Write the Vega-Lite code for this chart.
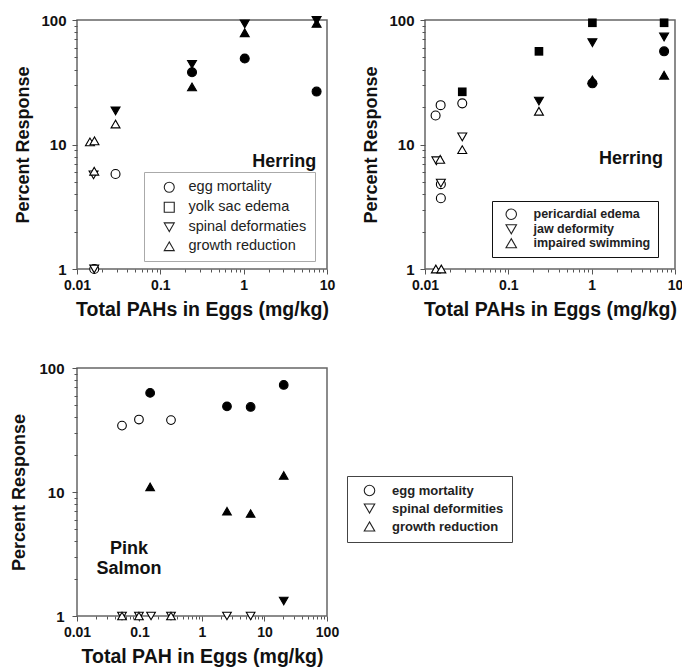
{
  "$schema": "https://vega.github.io/schema/vega-lite/v6.json",
  "padding": {"left": 10, "top": 12, "right": 0, "bottom": 0},
  "background": "white",
  "config": {
    "font": "Liberation Sans",
    "view": {"stroke": "#666", "strokeWidth": 1.5},
    "axis": {
      "domain": false, "grid": false, "tickColor": "#555", "tickWidth": 1,
      "labelFont": "Liberation Sans", "labelFontWeight": "bold", "labelColor": "#111",
      "titleFont": "Liberation Sans", "titleFontWeight": "bold", "titleColor": "#111",
      "labelFlush": false, "labelOverlap": false
    },
    "legend": {"titleFontSize": 0}
  },
  "datasets": {
    "p1": [
      {"x": 0.0161, "y": 1, "cat": "egg mortality", "f": "open"},
      {"x": 0.029, "y": 5.8, "cat": "egg mortality", "f": "open"},
      {"x": 0.24, "y": 38, "cat": "egg mortality", "f": "filled"},
      {"x": 1.03, "y": 49, "cat": "egg mortality", "f": "filled"},
      {"x": 7.5, "y": 26.6, "cat": "egg mortality", "f": "filled"},
      {"x": 0.0161, "y": 1, "cat": "spinal deformaties", "f": "open"},
      {"x": 0.0158, "y": 5.7, "cat": "spinal deformaties", "f": "open"},
      {"x": 0.029, "y": 18.6, "cat": "spinal deformaties", "f": "filled"},
      {"x": 0.24, "y": 44, "cat": "spinal deformaties", "f": "filled"},
      {"x": 1.03, "y": 93, "cat": "spinal deformaties", "f": "filled"},
      {"x": 7.5, "y": 99, "cat": "spinal deformaties", "f": "filled"},
      {"x": 0.0143, "y": 10.5, "cat": "growth reduction", "f": "open"},
      {"x": 0.0162, "y": 10.7, "cat": "growth reduction", "f": "open"},
      {"x": 0.0161, "y": 6.1, "cat": "growth reduction", "f": "open"},
      {"x": 0.029, "y": 14.6, "cat": "growth reduction", "f": "open"},
      {"x": 0.24, "y": 29, "cat": "growth reduction", "f": "filled"},
      {"x": 1.03, "y": 79, "cat": "growth reduction", "f": "filled"},
      {"x": 7.5, "y": 94, "cat": "growth reduction", "f": "filled"}
    ],
    "p2": [
      {"x": 0.0134, "y": 17.1, "cat": "pericardial edema", "f": "open"},
      {"x": 0.0154, "y": 20.7, "cat": "pericardial edema", "f": "open"},
      {"x": 0.028, "y": 21.4, "cat": "pericardial edema", "f": "open"},
      {"x": 0.0155, "y": 4.8, "cat": "pericardial edema", "f": "open"},
      {"x": 0.0155, "y": 3.7, "cat": "pericardial edema", "f": "open"},
      {"x": 1.02, "y": 31, "cat": "pericardial edema", "f": "filled"},
      {"x": 7.4, "y": 56, "cat": "pericardial edema", "f": "filled"},
      {"x": 0.0137, "y": 7.4, "cat": "jaw deformity", "f": "open"},
      {"x": 0.0155, "y": 4.9, "cat": "jaw deformity", "f": "open"},
      {"x": 0.028, "y": 11.5, "cat": "jaw deformity", "f": "open"},
      {"x": 0.233, "y": 22.3, "cat": "jaw deformity", "f": "filled"},
      {"x": 1.02, "y": 65.7, "cat": "jaw deformity", "f": "filled"},
      {"x": 7.4, "y": 73, "cat": "jaw deformity", "f": "filled"},
      {"x": 0.0135, "y": 1, "cat": "impaired swimming", "f": "open"},
      {"x": 0.0157, "y": 1, "cat": "impaired swimming", "f": "open"},
      {"x": 0.0152, "y": 7.6, "cat": "impaired swimming", "f": "open"},
      {"x": 0.028, "y": 9.1, "cat": "impaired swimming", "f": "open"},
      {"x": 0.233, "y": 18.5, "cat": "impaired swimming", "f": "open"},
      {"x": 1.02, "y": 33, "cat": "impaired swimming", "f": "filled"},
      {"x": 7.4, "y": 36, "cat": "impaired swimming", "f": "filled"}
    ],
    "p2sq": [
      {"x": 0.028, "y": 26.5},
      {"x": 0.233, "y": 56},
      {"x": 1.02, "y": 95},
      {"x": 7.4, "y": 95}
    ],
    "p3": [
      {"x": 0.0525, "y": 34.3, "cat": "egg mortality", "f": "open"},
      {"x": 0.098, "y": 38.4, "cat": "egg mortality", "f": "open"},
      {"x": 0.319, "y": 38, "cat": "egg mortality", "f": "open"},
      {"x": 0.148, "y": 63, "cat": "egg mortality", "f": "filled"},
      {"x": 2.51, "y": 49, "cat": "egg mortality", "f": "filled"},
      {"x": 6.0, "y": 48.5, "cat": "egg mortality", "f": "filled"},
      {"x": 20.3, "y": 73, "cat": "egg mortality", "f": "filled"},
      {"x": 0.0525, "y": 1, "cat": "spinal deformities", "f": "open"},
      {"x": 0.098, "y": 1, "cat": "spinal deformities", "f": "open"},
      {"x": 0.153, "y": 1, "cat": "spinal deformities", "f": "open"},
      {"x": 0.319, "y": 1, "cat": "spinal deformities", "f": "open"},
      {"x": 2.51, "y": 1, "cat": "spinal deformities", "f": "open"},
      {"x": 6.0, "y": 1, "cat": "spinal deformities", "f": "open"},
      {"x": 20.3, "y": 1.32, "cat": "spinal deformities", "f": "filled"},
      {"x": 0.0525, "y": 1, "cat": "growth reduction", "f": "open"},
      {"x": 0.098, "y": 1, "cat": "growth reduction", "f": "open"},
      {"x": 0.319, "y": 1, "cat": "growth reduction", "f": "open"},
      {"x": 0.148, "y": 11, "cat": "growth reduction", "f": "filled"},
      {"x": 2.51, "y": 7.0, "cat": "growth reduction", "f": "filled"},
      {"x": 6.0, "y": 6.7, "cat": "growth reduction", "f": "filled"},
      {"x": 20.3, "y": 13.6, "cat": "growth reduction", "f": "filled"}
    ],
    "t1": [{"x": 3.07, "y": 7.3, "t": "Herring"}],
    "t2": [{"x": 2.97, "y": 7.6, "t": "Herring"}],
    "t3": [{"x": 0.068, "y": 3.5, "t": "Pink"}, {"x": 0.068, "y": 2.4, "t": "Salmon"}]
  },
  "resolve": {"scale": {"shape": "independent", "fill": "independent"}, "legend": {"shape": "independent"}},
  "columns": 1,
  "align": "none",
  "spacing": 40,
  "concat": [
    {
      "resolve": {"scale": {"shape": "independent", "fill": "independent", "x": "independent", "y": "independent"}, "legend": {"shape": "independent"}},
      "spacing": 26,
      "hconcat": [
        {
          "width": 250, "height": 249,
          "layer": [
            {
              "data": {"name": "p1"},
              "mark": {"type": "point", "filled": true, "stroke": "black", "strokeWidth": 1.1, "size": 80, "opacity": 1},
              "encoding": {
                "x": {"field": "x", "type": "quantitative", "scale": {"type": "log", "domain": [0.01, 10], "nice": false},
                  "axis": {"title": "Total PAHs in Eggs (mg/kg)", "titleFontSize": 19.5, "titlePadding": 8, "labelFontSize": 14, "labelPadding": 4, "format": "~g",
                    "values": [0.01,0.02,0.03,0.04,0.05,0.06,0.07,0.08,0.09,0.1,0.2,0.3,0.4,0.5,0.6,0.7,0.8,0.9,1,2,3,4,5,6,7,8,9,10],
                    "labelExpr": "indexof([0.01,0.1,1,10], datum.value) >= 0 ? datum.label : ''",
                    "tickSize": {"condition": {"test": "indexof([0.01,0.1,1,10], datum.value) >= 0", "value": 5}, "value": 3}}},
                "y": {"field": "y", "type": "quantitative", "scale": {"type": "log", "domain": [1, 100], "nice": false},
                  "axis": {"title": "Percent Response", "titleFontSize": 18, "titlePadding": 8, "labelFontSize": 15, "labelPadding": 6, "format": "~g",
                    "values": [1,2,3,4,5,6,7,8,9,10,20,30,40,50,60,70,80,90,100],
                    "labelExpr": "indexof([1,10,100], datum.value) >= 0 ? datum.label : ''",
                    "tickSize": {"condition": {"test": "indexof([1,10,100], datum.value) >= 0", "value": 5}, "value": 3}}},
                "shape": {"field": "cat", "type": "nominal",
                  "scale": {"domain": ["egg mortality", "yolk sac edema", "spinal deformaties", "growth reduction"], "range": ["circle", "square", "triangle-down", "triangle-up"]},
                  "legend": {"title": null, "orient": "none", "legendX": 67, "legendY": 152, "padding": 8, "strokeColor": "#aaa", "fillColor": "white",
                    "labelFontSize": 14.5, "labelFontWeight": "normal", "labelColor": "#222", "symbolSize": 100, "symbolFillColor": "white", "symbolStrokeColor": "#222",
                    "symbolStrokeWidth": 1.1, "symbolOffset": 10, "labelOffset": 12, "rowPadding": 4}},
                "fill": {"field": "f", "type": "nominal", "scale": {"domain": ["open", "filled"], "range": ["white", "black"]}, "legend": null}
              }
            },
            {
              "data": {"name": "t1"},
              "mark": {"type": "text", "fontSize": 18, "fontWeight": "bold", "color": "#111"},
              "encoding": {
                "x": {"field": "x", "type": "quantitative"},
                "y": {"field": "y", "type": "quantitative"},
                "text": {"field": "t", "type": "nominal"}
              }
            }
          ]
        },
        {
          "width": 250, "height": 249,
          "layer": [
            {
              "data": {"name": "p2sq"},
              "mark": {"type": "point", "shape": "square", "filled": true, "color": "black", "size": 75, "opacity": 1},
              "encoding": {
                "x": {"field": "x", "type": "quantitative", "scale": {"type": "log", "domain": [0.01, 10], "nice": false},
                  "axis": {"title": "Total PAHs in Eggs (mg/kg)", "titleFontSize": 19.5, "titlePadding": 8, "labelFontSize": 14, "labelPadding": 4, "format": "~g",
                    "values": [0.01,0.02,0.03,0.04,0.05,0.06,0.07,0.08,0.09,0.1,0.2,0.3,0.4,0.5,0.6,0.7,0.8,0.9,1,2,3,4,5,6,7,8,9,10],
                    "labelExpr": "indexof([0.01,0.1,1,10], datum.value) >= 0 ? datum.label : ''",
                    "tickSize": {"condition": {"test": "indexof([0.01,0.1,1,10], datum.value) >= 0", "value": 5}, "value": 3}}},
                "y": {"field": "y", "type": "quantitative", "scale": {"type": "log", "domain": [1, 100], "nice": false},
                  "axis": {"title": "Percent Response", "titleFontSize": 18, "titlePadding": 8, "labelFontSize": 15, "labelPadding": 6, "format": "~g",
                    "values": [1,2,3,4,5,6,7,8,9,10,20,30,40,50,60,70,80,90,100],
                    "labelExpr": "indexof([1,10,100], datum.value) >= 0 ? datum.label : ''",
                    "tickSize": {"condition": {"test": "indexof([1,10,100], datum.value) >= 0", "value": 5}, "value": 3}}}
              }
            },
            {
              "data": {"name": "p2"},
              "mark": {"type": "point", "filled": true, "stroke": "black", "strokeWidth": 1.1, "size": 80, "opacity": 1},
              "encoding": {
                "x": {"field": "x", "type": "quantitative"},
                "y": {"field": "y", "type": "quantitative"},
                "shape": {"field": "cat", "type": "nominal",
                  "scale": {"domain": ["pericardial edema", "jaw deformity", "impaired swimming"], "range": ["circle", "triangle-down", "triangle-up"]},
                  "legend": {"title": null, "orient": "none", "legendX": 67, "legendY": 181, "padding": 7, "strokeColor": "#111", "fillColor": "white",
                    "labelFontSize": 12.5, "labelFontWeight": "bold", "labelColor": "#222", "symbolSize": 110, "symbolFillColor": "white", "symbolStrokeColor": "#222",
                    "symbolStrokeWidth": 1.1, "symbolOffset": 6, "labelOffset": 16, "rowPadding": 0}},
                "fill": {"field": "f", "type": "nominal", "scale": {"domain": ["open", "filled"], "range": ["white", "black"]}, "legend": null}
              }
            },
            {
              "data": {"name": "t2"},
              "mark": {"type": "text", "fontSize": 18, "fontWeight": "bold", "color": "#111"},
              "encoding": {
                "x": {"field": "x", "type": "quantitative"},
                "y": {"field": "y", "type": "quantitative"},
                "text": {"field": "t", "type": "nominal"}
              }
            }
          ]
        }
      ]
    },
    {
      "width": 250, "height": 248,
      "layer": [
        {
          "data": {"name": "p3"},
          "mark": {"type": "point", "filled": true, "stroke": "black", "strokeWidth": 1.1, "size": 75, "opacity": 1},
          "encoding": {
            "x": {"field": "x", "type": "quantitative", "scale": {"type": "log", "domain": [0.01, 100], "nice": false},
              "axis": {"title": "Total PAH in Eggs (mg/kg)", "titleFontSize": 19.5, "titlePadding": 8, "labelFontSize": 14, "labelPadding": 4, "format": "~g",
                "values": [0.01,0.02,0.03,0.04,0.05,0.06,0.07,0.08,0.09,0.1,0.2,0.3,0.4,0.5,0.6,0.7,0.8,0.9,1,2,3,4,5,6,7,8,9,10,20,30,40,50,60,70,80,90,100],
                "labelExpr": "indexof([0.01,0.1,1,10,100], datum.value) >= 0 ? datum.label : ''",
                "tickSize": {"condition": {"test": "indexof([0.01,0.1,1,10,100], datum.value) >= 0", "value": 5}, "value": 3}}},
            "y": {"field": "y", "type": "quantitative", "scale": {"type": "log", "domain": [1, 100], "nice": false},
              "axis": {"title": "Percent Response", "titleFontSize": 18, "titlePadding": 10, "labelFontSize": 15, "labelPadding": 8, "format": "~g",
                "values": [1,2,3,4,5,6,7,8,9,10,20,30,40,50,60,70,80,90,100],
                "labelExpr": "indexof([1,10,100], datum.value) >= 0 ? datum.label : ''",
                "tickSize": {"condition": {"test": "indexof([1,10,100], datum.value) >= 0", "value": 5}, "value": 3}}},
            "shape": {"field": "cat", "type": "nominal",
              "scale": {"domain": ["egg mortality", "spinal deformities", "growth reduction"], "range": ["circle", "triangle-down", "triangle-up"]},
              "legend": {"title": null, "orient": "none", "legendX": 270, "legendY": 108, "padding": 8, "strokeColor": "#444", "fillColor": "white",
                "labelFontSize": 13, "labelFontWeight": "bold", "labelColor": "#222", "symbolSize": 110, "symbolFillColor": "white", "symbolStrokeColor": "#222",
                "symbolStrokeWidth": 1.1, "symbolOffset": 8, "labelOffset": 16, "rowPadding": 3}},
            "fill": {"field": "f", "type": "nominal", "scale": {"domain": ["open", "filled"], "range": ["white", "black"]}, "legend": null}
          }
        },
        {
          "data": {"name": "t3"},
          "mark": {"type": "text", "fontSize": 18, "fontWeight": "bold", "color": "#111"},
          "encoding": {
            "x": {"field": "x", "type": "quantitative"},
            "y": {"field": "y", "type": "quantitative"},
            "text": {"field": "t", "type": "nominal"}
          }
        }
      ]
    }
  ]
}
